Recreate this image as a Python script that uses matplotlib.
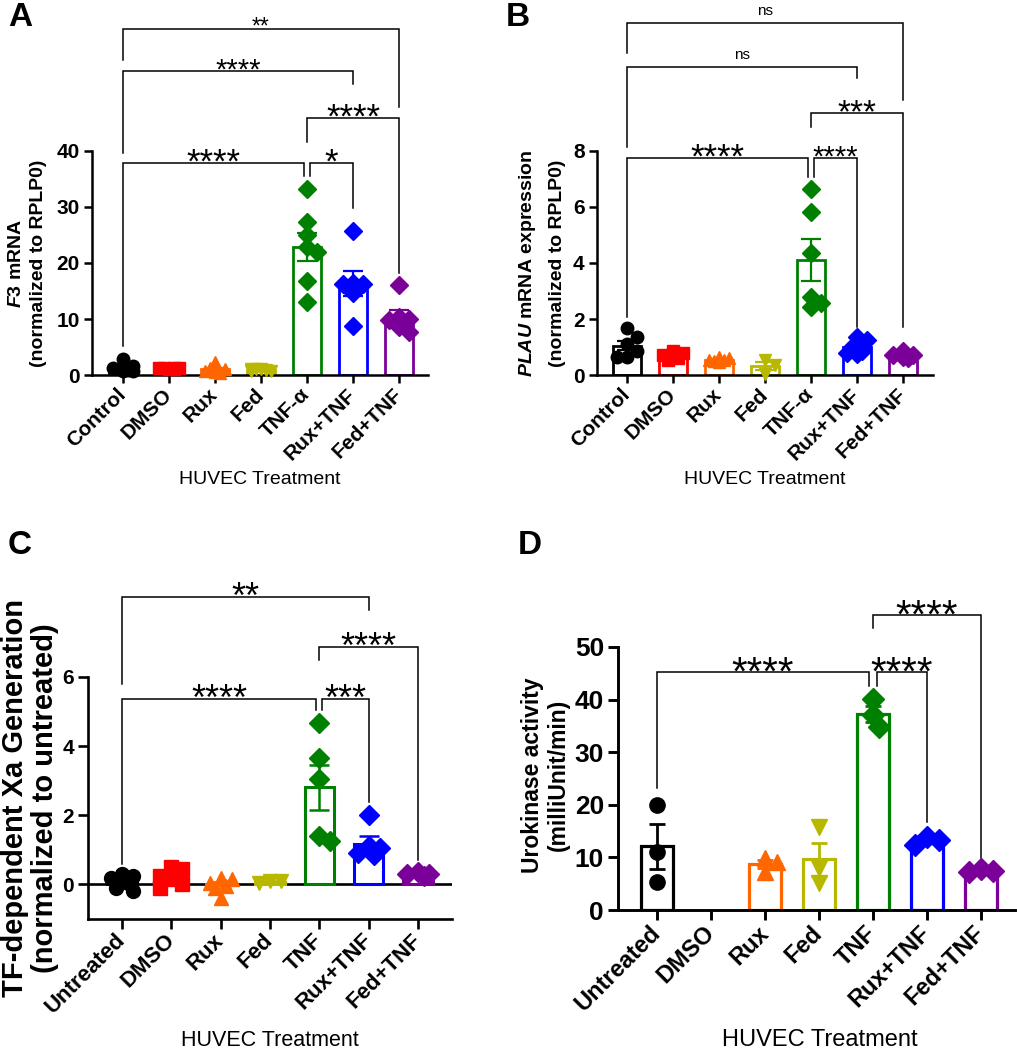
import numpy as np
import matplotlib.pyplot as plt

plt.rcParams['font.family'] = ['Liberation Sans', 'DejaVu Sans']
plt.rcParams['font.weight'] = 'bold'
plt.rcParams['mathtext.fontset'] = 'custom'
plt.rcParams['mathtext.it'] = 'Liberation Sans:italic:bold'
plt.rcParams['mathtext.rm'] = 'Liberation Sans:bold'

# groups, colours and markers shared by the four panels
groups_ab = ["Control", "DMSO", "Rux", "Fed", "TNF-α", "Rux+TNF", "Fed+TNF"]
groups_cd = ["Untreated", "DMSO", "Rux", "Fed", "TNF", "Rux+TNF", "Fed+TNF"]
colors = ["#000000", "#ff0000", "#ff6600", "#b8b800", "#008000", "#0000ff", "#7b0099"]
markers = ["o", "s", "^", "v", "D", "D", "D"]

# A: F3 mRNA (normalized to RPLP0)
f3_control = [0.8, 1.6, 2.8, 1.2, 0.7, 0.9]
f3_dmso = [1.1, 1.3, 1.2, 1.0, 1.3, 1.2]
f3_rux = [0.5, 1.0, 2.4, 0.7, 1.2, 0.4]
f3_fed = [1.0, 0.8, 1.1, 0.9, 1.0, 0.7]
f3_tnf = [33.2, 27.4, 25.0, 22.9, 22.0, 16.7, 13.0]
f3_rux_tnf = [25.8, 16.5, 16.3, 16.2, 14.7, 8.75]
f3_fed_tnf = [16.1, 10.3, 10.0, 9.8, 8.5, 7.7]

# B: PLAU mRNA expression (normalized to RPLP0)
plau_control = [1.67, 1.37, 1.1, 0.85, 0.65, 0.65]
plau_dmso = [0.85, 0.8, 0.7, 0.6, 0.55]
plau_rux = [0.65, 0.6, 0.55, 0.55, 0.5, 0.45]
plau_fed = [0.55, 0.35, 0.05]
plau_tnf = [6.63, 5.83, 4.37, 2.8, 2.56, 2.44]
plau_rux_tnf = [1.35, 1.25, 1.0, 0.85, 0.8, 0.75]
plau_fed_tnf = [0.85, 0.7, 0.7, 0.65, 0.6]

# C: TF-dependent Xa generation (normalized to untreated)
xa_untreated = [0.3, 0.25, 0.2, 0.05, -0.1, -0.2]
xa_dmso = [0.5, 0.45, 0.25, 0.15, 0.0, -0.1]
xa_rux = [0.2, 0.15, 0.05, -0.05, -0.1, -0.4]
xa_fed = [0.1, 0.1, 0.05]
xa_tnf = [4.67, 3.65, 3.04, 1.39, 1.27]
xa_rux_tnf = [2.0, 1.1, 1.05, 0.9, 0.85]
xa_fed_tnf = [0.35, 0.3, 0.3, 0.25]

# D: urokinase activity (milliUnit/min), no DMSO data
uk_untreated = [20.0, 11.0, 5.3]
uk_dmso = []
uk_rux = [9.8, 9.2, 7.3]
uk_fed = [15.8, 8.0, 5.1]
uk_tnf = [40.1, 37.1, 34.8]
uk_rux_tnf = [13.8, 13.3, 12.3]
uk_fed_tnf = [7.8, 7.5, 7.3]

# significance brackets: label, x1, x2, bracket y, left leg end, right leg end, font size
sig_a = [("**", 0, 6, 61.8, 56.3, 47.9, 16.5),
         ("****", 0, 5, 54.3, 39.6, 52.0, 21),
         ("****", 4, 6, 45.9, 41.6, 18.2, 25),
         ("****", 0, 3.93, 37.9, 5.2, 35.5, 25),
         ("*", 4.07, 5, 37.9, 35.5, 29.8, 25)]
sig_b = [("ns", 0, 6, 12.57, 11.5, 9.82, 11),
         ("ns", 0, 5, 11.0, 8.14, 10.6, 11),
         ("***", 4, 6, 9.36, 8.86, 1.71, 24),
         ("****", 0, 3.93, 7.75, 2.07, 7.07, 25),
         ("****", 4.07, 5, 7.75, 7.07, 1.71, 21)]
sig_c = [("**", 0, 5, 8.32, 5.8, 7.94, 26),
         ("****", 4, 6, 6.87, 6.49, 0.7, 26),
         ("****", 0, 3.94, 5.36, 0.6, 5.04, 26),
         ("***", 4.06, 5, 5.36, 5.04, 2.38, 26)]
sig_d = [("****", 0, 3.93, 45.2, 23.2, 42.6, 29),
         ("****", 4.07, 5, 45.2, 42.6, 16.7, 29),
         ("****", 4, 6, 56.1, 53.6, 9.9, 29)]

W, H = 1017, 1050
fig = plt.figure(figsize=(W / 100, H / 100), dpi=100)


def swarm(vals, ax, ms):
    # simple beeswarm kept inside the bar: spread points only when they overlap
    bb = ax.get_window_extent()
    x0, x1 = ax.get_xlim()
    y0, y1 = ax.get_ylim()
    ux = bb.width / (x1 - x0)
    uy = bb.height / (y1 - y0)
    d = ms * 100 / 72 * 0.8
    lim = 0.3 * ux
    cands = [0.0] + [s * m * d * 0.5 for m in range(1, 10) for s in (1, -1)]
    cands = [c for c in cands if abs(c) <= lim]
    placed, offs = [], []
    for v in vals:
        py = v * uy
        best, best_gap = 0.0, -1
        for px in cands:
            gap = min([np.hypot(px - qx, py - qy) for qx, qy in placed], default=1e9)
            if gap >= d:
                best = px
                break
            if gap > best_gap + 1e-6:
                best, best_gap = px, gap
        placed.append((best, py))
        offs.append(best / ux)
    return np.array(offs)


def bracket(ax, lab, x1, x2, y, yl, yr, size):
    ax.plot([x1, x1, x2, x2], [yl, y, y, yr], color="black", lw=1.1,
            clip_on=False, solid_joinstyle="miter")
    if lab == "ns":
        ax.annotate(lab, xy=((x1 + x2) / 2, y), xytext=(0, 6), textcoords="offset points",
                    ha="center", va="baseline", fontsize=size, fontweight="normal",
                    annotation_clip=False)
    else:
        ax.annotate(lab, xy=((x1 + x2) / 2, y), xytext=(0, 4 - 0.45 * size),
                    textcoords="offset points", ha="center", va="baseline",
                    fontsize=size, fontweight="normal", annotation_clip=False)


def panel(rect, data, groups, xlim, ylim, yticks, sigs, st):
    ax = fig.add_axes([rect[0] / W, 1 - rect[3] / H, (rect[2] - rect[0]) / W, (rect[3] - rect[1]) / H])
    ax.set_xlim(xlim)
    ax.set_ylim(ylim)
    for k, vals in enumerate(data):
        if len(vals) == 0:
            continue
        v = np.array(vals)
        m = v.mean()
        ax.bar(k, m, width=0.6, facecolor="white", edgecolor=colors[k],
               linewidth=st["bar_lw"], zorder=2)
        offs = swarm(v, ax, st["ms"])
        ax.plot(k + offs, v, ls="none", marker=markers[k], ms=st["ms"], color=colors[k],
                zorder=3, clip_on=False)
        sem = v.std(ddof=1) / np.sqrt(len(v))
        ax.errorbar(k, m, yerr=sem, color=colors[k], capsize=st["cap"],
                    elinewidth=st["eb_lw"], capthick=st["eb_lw"], zorder=4)
    for s in sigs:
        bracket(ax, s[0], s[1], s[2], s[3], s[4], s[5], s[6])
    for side in ("top", "right"):
        ax.spines[side].set_visible(False)
    for side in ("left", "bottom"):
        ax.spines[side].set_linewidth(st["spine"])
    ax.set_xticks(range(len(groups)))
    ax.set_xticklabels(groups, rotation=45, ha="right", va="center", rotation_mode="anchor",
                       fontsize=st["xt"], fontweight="bold")
    ax.set_yticks(yticks)
    ax.tick_params(axis="y", labelsize=st["yt"], length=st["tl"], width=st["spine"], pad=3)
    ax.tick_params(axis="x", length=st["tl"], width=st["spine"], pad=st["xpad"])
    return ax


st_ab = dict(bar_lw=2.0, ms=9, cap=7, eb_lw=1.6, spine=1.8, xt=15, yt=15, tl=6, xpad=6)
st_c = dict(bar_lw=2.2, ms=10, cap=7, eb_lw=1.8, spine=1.9, xt=16, yt=15, tl=7, xpad=6)
st_d = dict(bar_lw=2.3, ms=11, cap=6, eb_lw=2.0, spine=2.1, xt=17, yt=19, tl=7, xpad=7)

f3_mrna = [f3_control, f3_dmso, f3_rux, f3_fed, f3_tnf, f3_rux_tnf, f3_fed_tnf]
plau_mrna = [plau_control, plau_dmso, plau_rux, plau_fed, plau_tnf, plau_rux_tnf, plau_fed_tnf]
xa_gen = [xa_untreated, xa_dmso, xa_rux, xa_fed, xa_tnf, xa_rux_tnf, xa_fed_tnf]
uk_act = [uk_untreated, uk_dmso, uk_rux, uk_fed, uk_tnf, uk_rux_tnf, uk_fed_tnf]

ax_a = panel((92, 151, 428, 375), f3_mrna, groups_ab, (-0.67, 6.63), (0, 40),
             [0, 10, 20, 30, 40], sig_a, st_ab)
ax_b = panel((597, 151, 933, 375), plau_mrna, groups_ab, (-0.65, 6.65), (0, 8),
             [0, 2, 4, 6, 8], sig_b, st_ab)
ax_c = panel((88, 677, 452, 919), xa_gen, groups_cd, (-0.69, 6.69), (-1, 6),
             [0, 2, 4, 6], sig_c, st_c)
ax_c.axhline(0, color="black", lw=st_c["spine"], zorder=1)
ax_d = panel((618, 647, 1015, 910), uk_act, groups_cd, (-0.72, 6.63), (0, 50),
             [0, 10, 20, 30, 40, 50], sig_d, st_d)

# axis titles
def vtext(x, y, s, size, weight="bold"):
    fig.text(x / W, 1 - y / H, s, rotation=90, ha="center", va="center",
             fontsize=size, fontweight=weight)

vtext(17, 263, r"$\mathit{F3}$ mRNA", 14)
vtext(39, 263, "(normalized to RPLP0)", 14)
vtext(528, 263, r"$\mathit{PLAU}$ mRNA expression", 14)
vtext(557, 263, "(normalized to RPLP0)", 14)
vtext(15, 798, "TF-dependent Xa Generation", 21)
vtext(45, 798, "(normalized to untreated)", 21)
vtext(532, 775, "Urokinase activity", 16.5)
vtext(558, 775, "(milliUnit/min)", 16.5)

fig.text(260 / W, 1 - 480 / H, "HUVEC Treatment", ha="center", va="center", fontsize=14, fontweight="normal")
fig.text(765 / W, 1 - 480 / H, "HUVEC Treatment", ha="center", va="center", fontsize=14, fontweight="normal")
fig.text(270 / W, 1 - 1040 / H, "HUVEC Treatment", ha="center", va="center", fontsize=15.5, fontweight="normal")
fig.text(820 / W, 1 - 1040 / H, "HUVEC Treatment", ha="center", va="center", fontsize=17, fontweight="normal")

# panel letters
for lab, x, y in [("A", 20, 18), ("B", 518, 18), ("C", 20, 546), ("D", 530, 546)]:
    fig.text(x / W, 1 - y / H, lab, ha="center", va="center", fontsize=24, fontweight="bold")

fig.savefig("out.png", dpi=100)
